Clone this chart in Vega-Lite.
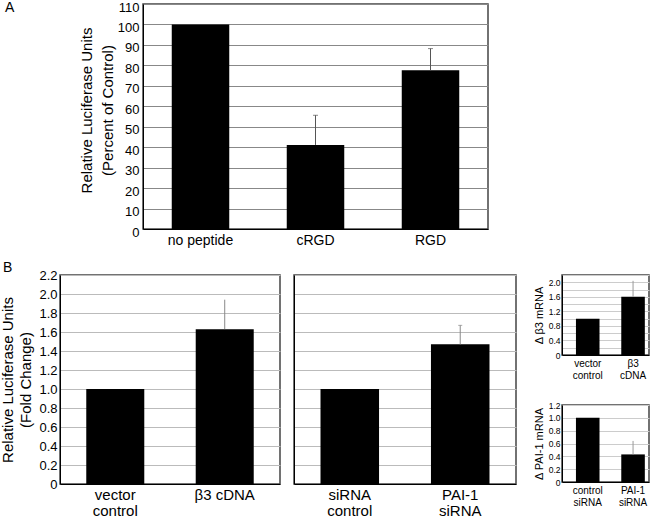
{
  "$schema": "https://vega.github.io/schema/vega-lite/v6.json",
  "padding": {"left": 0, "top": 0, "right": 0, "bottom": 0},
  "config": {
    "font": "Liberation Sans",
    "view": {"stroke": "#444", "strokeWidth": 1.5},
    "axis": {"labelColor": "#000", "titleColor": "#000", "titleFontWeight": "normal", "domainColor": "#000", "domainWidth": 1, "ticks": false, "labelFont": "Liberation Sans", "titleFont": "Liberation Sans"},
    "title": {"font": "Liberation Sans", "fontWeight": "normal", "color": "#000"}
  },
  "datasets": {
    "A": [
      {"cat": "no peptide", "val": 100},
      {"cat": "cRGD", "val": 41.1, "hi": 55.6},
      {"cat": "RGD", "val": 77.6, "hi": 88.2}
    ],
    "B1": [
      {"cat": "vector|control", "val": 1.0},
      {"cat": "β3 cDNA", "val": 1.63, "hi": 1.94}
    ],
    "B2": [
      {"cat": "siRNA|control", "val": 1.0},
      {"cat": "PAI-1|siRNA", "val": 1.47, "hi": 1.67}
    ],
    "S1": [
      {"cat": "vector|control", "val": 1.0},
      {"cat": "β3|cDNA", "val": 1.6, "hi": 2.04}
    ],
    "S2": [
      {"cat": "control|siRNA", "val": 1.0},
      {"cat": "PAI-1|siRNA", "val": 0.43, "hi": 0.64}
    ]
  },
  "bounds": "flush",
  "spacing": 271,
  "vconcat": [
    {
      "bounds": "flush",
      "spacing": 0,
      "hconcat": [
        {"width": 83, "height": 225, "data": {"values": []}, "mark": "point", "view": {"stroke": null}},
        {
          "width": 345, "height": 225,
          "title": {"text": "A", "anchor": "start", "frame": "group", "fontSize": 14, "offset": 0, "dx": -138, "dy": 25, "baseline": "alphabetic"},
          "data": {"name": "A"},
          "layer": [
            {
              "mark": {"type": "bar", "color": "#000"},
              "encoding": {
                "x": {"field": "cat", "type": "nominal", "sort": null, "scale": {"paddingInner": 0.5, "paddingOuter": 0.25},
                  "axis": {"title": null, "labelAngle": 0, "labelFontSize": 14, "labelPadding": 4, "labelExpr": "split(datum.label,'|')"}},
                "y": {"field": "val", "type": "quantitative", "scale": {"domain": [0, 110], "nice": false},
                  "axis": {"tickCount": 11, "labelOverlap": false, "gridColor": "#888", "labelFontSize": 13, "labelPadding": 4, "labelOffset": 3, "titleFontSize": 15, "titleLineHeight": 21, "titlePadding": 2, "titleY": 106, "title": ["Relative Luciferase Units", "(Percent of Control)"]}}
              }
            },
            {
              "transform": [{"filter": "isValid(datum.hi)"}],
              "mark": {"type": "rule", "color": "#555"},
              "encoding": {"x": {"field": "cat", "type": "nominal", "sort": null}, "y": {"field": "val", "type": "quantitative"}, "y2": {"field": "hi"}}
            },
            {
              "transform": [{"filter": "isValid(datum.hi)"}],
              "mark": {"type": "tick", "color": "#555", "orient": "horizontal", "size": 5, "thickness": 1},
              "encoding": {"x": {"field": "cat", "type": "nominal", "sort": null}, "y": {"field": "hi", "type": "quantitative"}}
            }
          ]
        }
      ]
    },
    {
      "bounds": "flush",
      "spacing": 502,
      "hconcat": [
        {
          "bounds": "flush",
          "spacing": 14,
          "hconcat": [
            {
              "width": 220, "height": 209,
              "title": {"text": "B", "anchor": "start", "frame": "group", "fontSize": 14, "offset": 0, "dx": -57, "dy": 17, "baseline": "alphabetic"},
              "data": {"name": "B1"},
              "layer": [
                {
                  "mark": {"type": "bar", "color": "#000"},
                  "encoding": {
                    "x": {"field": "cat", "type": "nominal", "sort": null, "scale": {"paddingInner": 0.47, "paddingOuter": 0.24},
                      "axis": {"title": null, "labelAngle": 0, "labelFontSize": 15, "labelLineHeight": 16.5, "labelPadding": 3, "labelExpr": "split(datum.label,'|')"}},
                    "y": {"field": "val", "type": "quantitative", "scale": {"domain": [0, 2.2], "nice": false},
                      "axis": {"tickCount": 11, "labelOverlap": false, "labelExpr": "datum.value == 0 ? '0' : format(datum.value, '.1f')", "gridColor": "#bbb", "labelFontSize": 13, "labelPadding": 3, "titleFontSize": 15, "titleLineHeight": 18, "titlePadding": 5, "title": ["Relative Luciferase Units", "(Fold Change)"]}}
                  }
                },
                {
                  "transform": [{"filter": "isValid(datum.hi)"}],
                  "mark": {"type": "rule", "color": "#888"},
                  "encoding": {"x": {"field": "cat", "type": "nominal", "sort": null}, "y": {"field": "val", "type": "quantitative"}, "y2": {"field": "hi"}}
                }
              ]
            },
            {
              "width": 222, "height": 209,
              "data": {"name": "B2"},
              "layer": [
                {
                  "mark": {"type": "bar", "color": "#000"},
                  "encoding": {
                    "x": {"field": "cat", "type": "nominal", "sort": null, "scale": {"paddingInner": 0.47, "paddingOuter": 0.24},
                      "axis": {"title": null, "labelAngle": 0, "labelFontSize": 15, "labelLineHeight": 16.5, "labelPadding": 3, "labelExpr": "split(datum.label,'|')"}},
                    "y": {"field": "val", "type": "quantitative", "scale": {"domain": [0, 2.2], "nice": false},
                      "axis": {"tickCount": 11, "labels": false, "gridColor": "#bbb", "title": null}}
                  }
                },
                {
                  "transform": [{"filter": "isValid(datum.hi)"}],
                  "mark": {"type": "rule", "color": "#888"},
                  "encoding": {"x": {"field": "cat", "type": "nominal", "sort": null}, "y": {"field": "val", "type": "quantitative"}, "y2": {"field": "hi"}}
                },
                {
                  "transform": [{"filter": "isValid(datum.hi)"}],
                  "mark": {"type": "tick", "color": "#888", "orient": "horizontal", "size": 4, "thickness": 1},
                  "encoding": {"x": {"field": "cat", "type": "nominal", "sort": null}, "y": {"field": "hi", "type": "quantitative"}}
                }
              ]
            }
          ]
        },
        {
          "bounds": "flush",
          "spacing": 50,
          "vconcat": [
            {
              "width": 87, "height": 80,
              "data": {"name": "S1"},
              "layer": [
                {
                  "mark": {"type": "bar", "color": "#000"},
                  "encoding": {
                    "x": {"field": "cat", "type": "nominal", "sort": null, "scale": {"paddingInner": 0.48, "paddingOuter": 0.2, "align": 0.77},
                      "axis": {"title": null, "labelAngle": 0, "labelFontSize": 10, "labelLineHeight": 12, "labelPadding": 3, "labelExpr": "split(datum.label,'|')"}},
                    "y": {"field": "val", "type": "quantitative", "scale": {"domain": [0, 2.2], "nice": false},
                      "axis": {"tickCount": 11, "labelOverlap": false, "labelExpr": "round(datum.value * 10) % 4 == 0 ? (datum.value == 0 ? '0' : format(datum.value, '.1f')) : ''", "gridColor": "#ccc", "labelFontSize": 8.5, "labelPadding": 2, "titleFontSize": 11, "titlePadding": 4, "title": "Δ β3 mRNA"}}
                  }
                },
                {
                  "transform": [{"filter": "isValid(datum.hi)"}],
                  "mark": {"type": "rule", "color": "#999"},
                  "encoding": {"x": {"field": "cat", "type": "nominal", "sort": null}, "y": {"field": "val", "type": "quantitative"}, "y2": {"field": "hi"}}
                }
              ]
            },
            {
              "width": 87, "height": 77,
              "data": {"name": "S2"},
              "layer": [
                {
                  "mark": {"type": "bar", "color": "#000"},
                  "encoding": {
                    "x": {"field": "cat", "type": "nominal", "sort": null, "scale": {"paddingInner": 0.48, "paddingOuter": 0.2, "align": 0.77},
                      "axis": {"title": null, "labelAngle": 0, "labelFontSize": 10, "labelLineHeight": 12, "labelPadding": 3, "labelExpr": "split(datum.label,'|')"}},
                    "y": {"field": "val", "type": "quantitative", "scale": {"domain": [0, 1.2], "nice": false},
                      "axis": {"tickCount": 6, "labelOverlap": false, "labelExpr": "datum.value == 0 ? '0' : format(datum.value, '.1f')", "gridColor": "#ccc", "labelFontSize": 8.5, "labelPadding": 2, "titleFontSize": 11, "titlePadding": 4, "title": "Δ PAI-1 mRNA"}}
                  }
                },
                {
                  "transform": [{"filter": "isValid(datum.hi)"}],
                  "mark": {"type": "rule", "color": "#999"},
                  "encoding": {"x": {"field": "cat", "type": "nominal", "sort": null}, "y": {"field": "val", "type": "quantitative"}, "y2": {"field": "hi"}}
                }
              ]
            }
          ]
        }
      ]
    }
  ]
}
